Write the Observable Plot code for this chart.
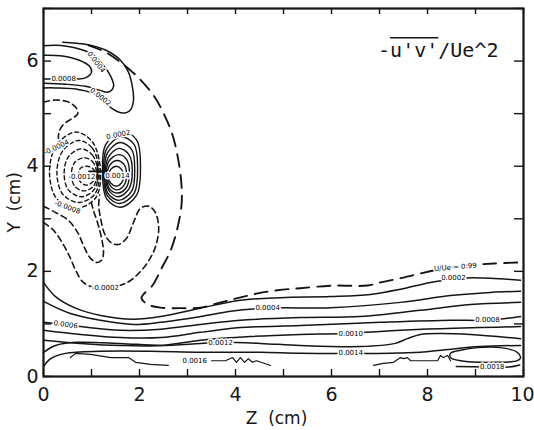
<!DOCTYPE html>
<html><head><meta charset="utf-8">
<script src="https://cdn.jsdelivr.net/npm/d3@7"></script>
<script src="https://cdn.jsdelivr.net/npm/@observablehq/plot@0.6"></script>
<style>body{margin:0;background:#fff}</style>
</head><body><div id="chart"></div>
<script>
// ---- axis values ----
const zTicks = [0,1,2,3,4,5,6,7,8,9,10];
const yTicks = [0,1,2,3,4,5,6,7];
const zLabels = [0,2,4,6,8];
const zLastLabel = [10];
const yLabels = [0,2,4,6];
const title = "-u'v'/Ue^2";
const xTitle = "Z  (cm)";
const yTitle = "Y  (cm)";

// ---- contour lines: [Z (cm), Y (cm)] ----
// upper-left positive lobes (solid)
const top08 = [[0,6.11],[0.35,6.10],[0.73,6.02],[0.96,5.90],[1.0,5.79],[0.875,5.68],[0.67,5.66],[0.35,5.66],[0,5.66]];
const top04 = [[0,6.29],[0.25,6.30],[0.67,6.25],[1.02,6.13],[1.23,5.94],[1.40,5.71],[1.46,5.52],[1.35,5.41],[1.15,5.45],[0.875,5.52],[0.46,5.56],[0,5.58]];
const top02 = [[0.40,6.36],[0.875,6.32],[1.29,6.21],[1.60,6.02],[1.77,5.79],[1.85,5.52],[1.875,5.26],[1.81,5.07],[1.65,5.01],[1.44,5.09],[1.23,5.26],[1.02,5.39],[0.67,5.47],[0.25,5.49],[0,5.49]];
// positive vortex rings 0.0002 ... 0.0014 (solid, closed)
const pos02 = [[1.625,4.67],[1.94,4.50],[2.02,4.02],[1.94,3.45],[1.60,3.22],[1.31,3.39],[1.23,3.89],[1.29,4.40]];
const pos04 = [[1.61,4.56],[1.89,4.41],[1.96,3.98],[1.89,3.49],[1.59,3.29],[1.33,3.44],[1.25,3.88],[1.31,4.32]];
const pos06 = [[1.59,4.45],[1.84,4.31],[1.90,3.95],[1.84,3.53],[1.57,3.35],[1.34,3.49],[1.27,3.86],[1.33,4.25]];
const pos08 = [[1.57,4.34],[1.78,4.22],[1.85,3.92],[1.78,3.57],[1.56,3.42],[1.36,3.54],[1.29,3.85],[1.35,4.17]];
const pos10 = [[1.56,4.22],[1.73,4.13],[1.79,3.88],[1.73,3.60],[1.55,3.49],[1.37,3.58],[1.31,3.84],[1.36,4.09]];
const pos12 = [[1.54,4.11],[1.68,4.03],[1.73,3.85],[1.68,3.64],[1.53,3.55],[1.39,3.63],[1.33,3.82],[1.38,4.02]];
const pos14 = [[1.52,4.00],[1.625,3.94],[1.67,3.81],[1.625,3.68],[1.52,3.62],[1.40,3.68],[1.35,3.81],[1.40,3.94]];
// negative vortex rings (dashed, closed)
const neg04 = [[0.67,4.65],[1.02,4.46],[1.19,3.89],[1.08,3.39],[0.67,3.20],[0.27,3.39],[0.125,3.89],[0.27,4.40]];
const neg06 = [[0.73,4.49],[1.02,4.34],[1.16,3.88],[1.07,3.47],[0.73,3.31],[0.40,3.47],[0.28,3.88],[0.40,4.29]];
const neg08 = [[0.79,4.33],[1.02,4.21],[1.14,3.86],[1.05,3.55],[0.79,3.42],[0.52,3.55],[0.43,3.86],[0.52,4.18]];
const neg10 = [[0.84,4.16],[1.02,4.09],[1.11,3.85],[1.04,3.62],[0.84,3.53],[0.65,3.62],[0.58,3.85],[0.65,4.07]];
const neg12 = [[0.90,4.00],[1.02,3.96],[1.08,3.83],[1.02,3.70],[0.90,3.64],[0.77,3.70],[0.73,3.83],[0.77,3.96]];
// negative open contours (dashed)
const negTop = [[0,5.22],[0.25,5.26],[0.52,5.22],[0.69,5.10],[0.71,4.99],[0.58,4.90],[0.42,4.80],[0.33,4.67],[0.31,4.53]];
const negU = [[0,3.24],[0.25,3.12],[0.52,2.97],[0.71,2.74],[0.83,2.50],[0.96,2.27],[1.10,2.17],[1.21,2.21],[1.25,2.36],[1.21,2.63],[1.125,2.93],[1.04,3.16],[1.0,3.30]];
const neg02 = [[0,2.93],[0.21,2.78],[0.42,2.50],[0.56,2.25],[0.67,2.02],[0.83,1.79],[1.125,1.68],[1.5,1.71],[1.75,1.79],[1.96,1.94],[2.17,2.17],[2.33,2.46],[2.40,2.82],[2.33,3.12],[2.19,3.24],[2.02,3.20],[1.875,2.93],[1.73,2.63],[1.56,2.51],[1.40,2.55],[1.27,2.72],[1.19,3.01],[1.15,3.26],[1.17,3.45]];
// U/Ue = 0.99 edge (long dashes)
const edge99 = [[0.94,6.30],[1.29,6.17],[1.60,5.98],[1.96,5.70],[2.29,5.35],[2.50,5.01],[2.69,4.59],[2.81,4.11],[2.875,3.64],[2.875,3.26],[2.79,2.82],[2.65,2.40],[2.46,2.06],[2.27,1.73],[2.08,1.56],[2.04,1.49],[2.17,1.37],[2.44,1.31],[2.85,1.30],[3.27,1.31],[3.69,1.41],[4.04,1.49],[4.46,1.58],[4.875,1.64],[5.35,1.68],[6.04,1.73],[6.75,1.73],[7.02,1.79],[7.44,1.87],[7.85,1.96],[8.15,2.02],[8.69,2.10],[9.40,2.15],[9.94,2.17]];
// boundary-layer contours (solid)
const bl02 = [[0,1.79],[0.25,1.52],[0.67,1.30],[1.19,1.16],[1.875,1.09],[2.44,1.14],[3.27,1.30],[4.10,1.45],[4.94,1.50],[5.98,1.52],[6.81,1.56],[7.44,1.66],[8.06,1.79],[8.69,1.87],[9.31,1.87],[9.94,1.83]];
const bl04 = [[0,1.43],[0.56,1.20],[1.19,1.07],[1.875,0.99],[2.44,1.03],[3.27,1.14],[3.90,1.24],[4.67,1.30],[5.98,1.31],[7.44,1.41],[8.48,1.54],[9.31,1.60],[9.94,1.62]];
const bl06 = [[0,1.03],[0.77,0.95],[1.6,0.88],[2.44,0.90],[3.27,0.99],[4.10,1.07],[5.35,1.12],[6.60,1.14],[7.85,1.26],[8.90,1.37],[9.94,1.41]];
const bl08 = [[0,0.88],[0.77,0.80],[1.6,0.74],[2.44,0.74],[3.27,0.84],[4.10,0.93],[5.35,0.97],[7.02,1.03],[8.48,1.07],[9.25,1.07],[9.94,1.14]];
const bl10 = [[0,0.69],[0.77,0.63],[1.6,0.59],[2.44,0.59],[3.27,0.69],[4.31,0.76],[5.35,0.80],[6.27,0.82],[7.44,0.88],[8.27,0.91],[9.10,0.93],[9.94,0.95]];
const bl12 = [[0,0.46],[0.25,0.59],[0.67,0.65],[1.6,0.63],[2.44,0.59],[3.27,0.63],[3.69,0.65],[4.52,0.63],[5.35,0.59],[6.60,0.57],[7.33,0.63],[7.58,0.72],[7.85,0.80],[8.27,0.82],[8.90,0.80],[9.94,0.72]];
const bl14 = [[0,0.19],[0.15,0.34],[0.46,0.44],[1.19,0.48],[2.23,0.48],[3.27,0.46],[4.52,0.46],[5.35,0.44],[6.40,0.44],[7.23,0.44],[7.85,0.46],[8.375,0.51],[9.10,0.57],[9.94,0.59]];
const bl16ring = [[8.48,0.44],[8.69,0.50],[9.04,0.55],[9.52,0.55],[9.87,0.46],[9.94,0.36],[9.87,0.30],[9.38,0.27],[8.69,0.30],[8.48,0.36]];
const bl16a = [[0.56,0.36],[0.67,0.44],[0.98,0.42],[1.40,0.36],[1.77,0.36],[1.92,0.27],[2.23,0.23],[2.60,0.21]];
const bl16b = [[3.50,0.30],[3.79,0.30],[3.94,0.36],[4.02,0.27],[4.10,0.36],[4.19,0.27],[4.27,0.34],[4.35,0.27],[4.44,0.30],[4.73,0.21]];
const bl16c = [[6.875,0.21],[7.08,0.25],[7.29,0.27],[7.44,0.36],[7.50,0.34],[7.58,0.36],[7.65,0.30],[8.21,0.30],[8.27,0.40],[8.33,0.36],[8.42,0.40],[8.48,0.30]];
const bl18 = [[8.60,0.19],[9.20,0.18],[9.70,0.18],[9.92,0.22]];

// contour labels
const labelText = ["0.0008","0.0004","0.0002","-0.0004","-0.0012","-0.0008","0.0002","0.0014","-0.0002","U/Ue = 0.99","0.0002","0.0004","0.0006","0.0008","0.0010","0.0012","0.0014","0.0016","0.0018"];
const labelZ = [0.42,1.10,1.19,0.27,0.80,0.50,1.56,1.54,1.29,8.58,8.54,4.67,0.46,9.25,6.40,3.69,6.40,3.15,9.35];
const labelY = [5.66,5.98,5.32,4.36,3.80,3.22,4.60,3.82,1.69,2.08,1.88,1.30,0.99,1.07,0.82,0.65,0.46,0.30,0.18];
const labelAngle = [0,52,38,-25,0,20,-12,0,0,-5,0,0,8,0,0,0,0,0,0];
const vortexCentre = [[1.125,3.90]];

// ---- build tables ----
const rows = (groups) => groups.flatMap(([id, pts]) => pts.map(([z, y]) => ({id, z, y})));
const solidOpen = rows([["top08",top08],["top04",top04],["top02",top02],["bl02",bl02],["bl04",bl04],["bl06",bl06],["bl08",bl08],["bl10",bl10],["bl12",bl12],["bl14",bl14],["bl18",bl18]]);
const solidClosed = rows([["p02",pos02],["p04",pos04],["p06",pos06],["p08",pos08],["p10",pos10],["p12",pos12],["p14",pos14],["b16",bl16ring]]);
const wiggly = rows([["a",bl16a],["b",bl16b],["c",bl16c]]);
const dashedOpen = rows([["nt",negTop],["nu",negU],["n02",neg02]]);
const dashedClosed = rows([["n04",neg04],["n06",neg06],["n08",neg08],["n10",neg10],["n12",neg12]]);
const edge = rows([["e",edge99]]);
const labels = labelText.map((text, i) => ({text, z: labelZ[i], y: labelY[i], a: labelAngle[i]}));

const ink = "#151515";
const tickFont = {fontSize: 19, fontFamily: "DejaVu Sans", fill: ink};
const chart = Plot.plot({
  width: 534, height: 430,
  marginLeft: 43, marginRight: 11, marginTop: 8, marginBottom: 54,
  x: {domain: [0, 10], axis: null},
  y: {domain: [0, 7], axis: null},
  style: {background: "#fff", overflow: "visible"},
  marks: [
    Plot.line(solidOpen, {x: "z", y: "y", z: "id", curve: "catmull-rom", stroke: ink, strokeWidth: 1.5}),
    Plot.line(solidClosed, {x: "z", y: "y", z: "id", curve: "catmull-rom-closed", stroke: ink, strokeWidth: 1.4}),
    Plot.line(wiggly, {x: "z", y: "y", z: "id", curve: "linear", stroke: ink, strokeWidth: 1.2}),
    Plot.line(dashedOpen, {x: "z", y: "y", z: "id", curve: "catmull-rom", stroke: ink, strokeWidth: 1.6, strokeDasharray: "6,4"}),
    Plot.line(dashedClosed, {x: "z", y: "y", z: "id", curve: "catmull-rom-closed", stroke: ink, strokeWidth: 1.4, strokeDasharray: "4,3"}),
    Plot.line(edge, {x: "z", y: "y", z: "id", curve: "catmull-rom", stroke: ink, strokeWidth: 1.9, strokeDasharray: "13,8"}),
    Plot.text(labels, {x: "z", y: "y", text: "text", rotate: "a", fontSize: 7, fontFamily: "DejaVu Sans", fill: "#000", stroke: "#fff", strokeWidth: 3, paintOrder: "stroke"}),
    Plot.dot(vortexCentre, {x: d => d[0], y: d => d[1], symbol: "plus", r: 6, stroke: ink, strokeWidth: 1.8}),
    Plot.tickX(zTicks, {x: d => d, insetTop: 361, stroke: ink, strokeWidth: 1.4}),
    Plot.tickX(zTicks, {x: d => d, insetBottom: 362, stroke: ink, strokeWidth: 1.4}),
    Plot.tickY(yTicks, {y: d => d, insetRight: 472, stroke: ink, strokeWidth: 1.4}),
    Plot.tickY(yTicks, {y: d => d, insetLeft: 471, stroke: ink, strokeWidth: 1.4}),
    Plot.frame({stroke: ink, strokeWidth: 2.2}),
    Plot.text(zLabels, {x: d => d, text: d => String(d), frameAnchor: "bottom", dy: 24, ...tickFont}),
    Plot.text(zLastLabel, {x: d => d, text: d => String(d), frameAnchor: "bottom", dy: 24, dx: -1, textAnchor: "middle", ...tickFont}),
    Plot.text(yLabels, {y: d => d, text: d => String(d), frameAnchor: "left", dx: -11, textAnchor: "middle", ...tickFont}),
    Plot.text([xTitle], {text: d => d, frameAnchor: "bottom", dx: -7, dy: 47, fontSize: 17, fontFamily: "DejaVu Sans", fill: ink}),
    Plot.text([yTitle], {text: d => d, frameAnchor: "left", dx: -29, dy: 40, rotate: -90, fontSize: 17, fontFamily: "DejaVu Sans", fill: ink}),
    Plot.text([title], {text: d => d, frameAnchor: "top-right", dx: -25, dy: 34, textAnchor: "end", fontSize: 20, fontFamily: "DejaVu Sans Mono", fill: ink})
  ]
});
document.getElementById("chart").append(chart);
// overline over u'v' in the title, measured from the rendered glyphs
d3.select(chart).selectAll("text").filter(function() { return this.textContent === title; }).each(function() {
  const a = this.getStartPositionOfChar(1);
  const b = this.getEndPositionOfChar(4);
  d3.select(this.parentNode).append("line")
    .attr("transform", this.getAttribute("transform"))
    .attr("x1", a.x).attr("x2", b.x)
    .attr("y1", a.y - 19).attr("y2", a.y - 19)
    .attr("stroke", ink).attr("stroke-width", 1.6);
});
</script></body></html>
